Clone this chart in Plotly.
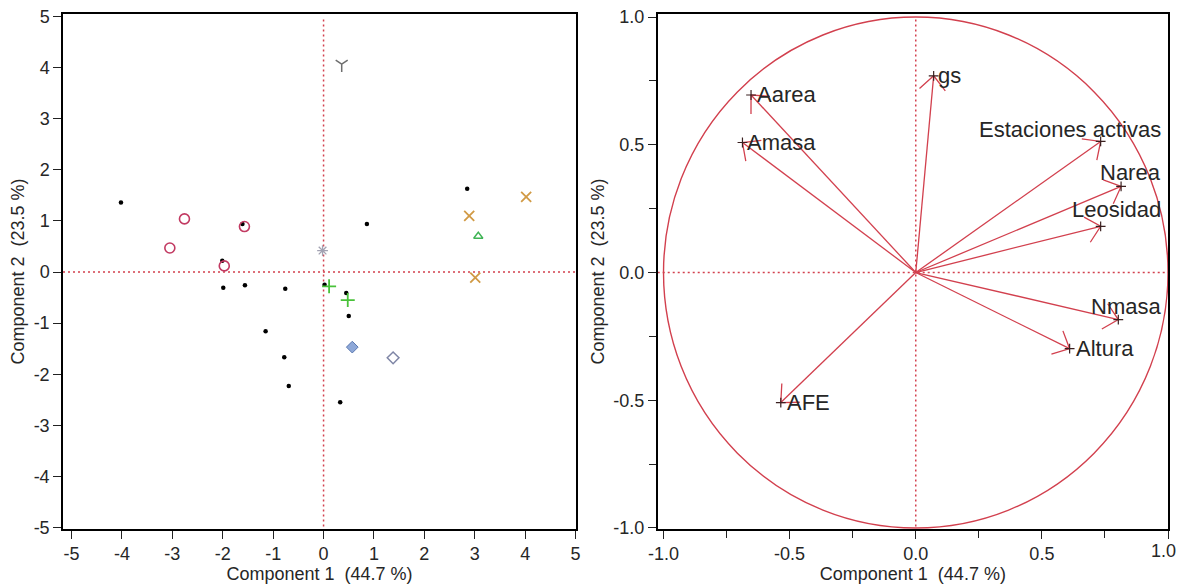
import math
import plotly.graph_objects as go

# ---------------- data: score plot (left) ----------------
black_x = [-4.02, -1.61, -2.01, 2.85, 0.86, -1.99, -1.56, -0.76, 0.02, 0.45, 0.50, -1.15, -0.78, -0.69, 0.33]
black_y = [1.36, 0.94, 0.22, 1.63, 0.94, -0.31, -0.26, -0.33, -0.25, -0.41, -0.86, -1.16, -1.67, -2.23, -2.55]
circ_x = [-2.76, -3.05, -1.57, -1.97]
circ_y = [1.04, 0.47, 0.89, 0.12]
xmark_x = [4.02, 2.89, 3.01]
xmark_y = [1.47, 1.10, -0.11]
tri_x = [3.07]
tri_y = [0.70]
plus_x = [0.11, 0.48]
plus_y = [-0.28, -0.55]
dfill_x = [0.57]
dfill_y = [-1.47]
dopen_x = [1.38]
dopen_y = [-1.68]
ymark_x = [0.36]
ymark_y = [4.07]
ast_x = [-0.02]
ast_y = [0.42]

# ---------------- data: loading plot (right) ----------------
var_names = ["gs", "Aarea", "Amasa", "Estaciones activas", "Narea", "Leosidad", "Nmasa", "Altura", "AFE"]
load_x = [0.071, -0.653, -0.687, 0.733, 0.814, 0.733, 0.803, 0.610, -0.535]
load_y = [0.770, 0.695, 0.509, 0.513, 0.337, 0.181, -0.184, -0.298, -0.509]

ticks_left = [-5, -4, -3, -2, -1, 0, 1, 2, 3, 4, 5]
tick_left_text = ["-5", "-4", "-3", "-2", "-1", "0", "1", "2", "3", "4", "5"]
ticks_right = [-1.0, -0.5, 0.0, 0.5, 1.0]
tick_right_text = ["-1.0", "-0.5", "0.0", "0.5", "1.0"]

# ---------------- styling / layout ----------------
W, H = 1179, 587
ML, MR, MT, MB = 63, 11, 14, 58
dom1 = [0.0, 0.4643]
dom2 = [0.5382, 1.0]
xr1, yr1 = [-5.17, 5.01], [-5.03, 5.05]
xr2, yr2 = [-1.023, 1.0], [-1.004, 1.012]

RED = "#d2404e"
FONT = "Liberation Sans, Arial, Helvetica, sans-serif"
TXT = "#262626"

pw = W - ML - MR
ph = H - MT - MB
sx2 = pw * (dom2[1] - dom2[0]) / (xr2[1] - xr2[0])
sy2 = ph / (yr2[1] - yr2[0])

fig = go.Figure()

def add_pts(x, y, symbol, color, size, lw=1.5, fill=None):
    fig.add_trace(go.Scatter(
        x=x, y=y, mode="markers", xaxis="x", yaxis="y", showlegend=False, hoverinfo="skip",
        marker=dict(symbol=symbol, size=size, color=fill if fill else color,
                    line=dict(color=color, width=lw))))

add_pts(black_x, black_y, "circle", "black", 4.5, 0)
add_pts(circ_x, circ_y, "circle-open", "#c23a62", 10, 1.6)
add_pts(xmark_x, xmark_y, "x-thin-open", "#d19a45", 10, 1.8)
add_pts(tri_x, tri_y, "triangle-up-open", "#3fb455", 8, 1.4)
add_pts(plus_x, plus_y, "cross-thin-open", "#49c23a", 10, 1.8)
add_pts(dfill_x, dfill_y, "diamond", "#5a78b0", 9, 1.0, fill="#8ea8d8")
add_pts(dopen_x, dopen_y, "diamond-open", "#7f86a6", 9, 1.5)
add_pts(ymark_x, ymark_y, "y-down-open", "#6e6e6e", 10, 1.5)
add_pts(ast_x, ast_y, "asterisk-open", "#a2a2b2", 9, 1.3)

# arrows (shafts + open heads) computed in pixel space
L_HEAD = 19.0
ANG = math.radians(43)
lx, ly = [], []
for x, y in zip(load_x, load_y):
    lx += [0, x, None]
    ly += [0, y, None]
    px, py = x * sx2, y * sy2
    n = math.hypot(px, py)
    bx, by = -px / n, -py / n
    for s in (1, -1):
        c, si = math.cos(s * ANG), math.sin(s * ANG)
        ax_ = bx * c - by * si
        ay_ = bx * si + by * c
        lx += [x + L_HEAD * ax_ / sx2]
        ly += [y + L_HEAD * ay_ / sy2]
        if s == 1:
            lx += [x]
            ly += [y]
    lx += [None]
    ly += [None]

fig.add_trace(go.Scatter(x=lx, y=ly, mode="lines", xaxis="x2", yaxis="y2",
                         line=dict(color=RED, width=1.3), showlegend=False, hoverinfo="skip"))
fig.add_trace(go.Scatter(x=load_x, y=load_y, mode="markers", xaxis="x2", yaxis="y2",
                         marker=dict(symbol="cross-thin-open", size=7, color="#3a2020",
                                     line=dict(color="#3a2020", width=1.2)),
                         showlegend=False, hoverinfo="skip"))

# labels
LBL = 22
label_mode = ["tip", "tip", "tip", "edge", "edge", "edge", "edge", "tip", "tip"]
label_dx = [2, 4, 3, 0, 0, 0, 0, 4, 4]
label_dy = [0, 0, 0, 12, 14, 17, 13, 0, 0]
for name, x, y, m, dx, dy in zip(var_names, load_x, load_y, label_mode, label_dx, label_dy):
    if m == "tip":
        fig.add_annotation(x=x, y=y, xref="x2", yref="y2", text=name, showarrow=False,
                           xanchor="left", yanchor="middle", xshift=dx, yshift=dy,
                           font=dict(family=FONT, size=LBL, color=TXT))
    else:
        fig.add_annotation(x=0.99, y=y, xref="x2 domain", yref="y2", text=name, showarrow=False,
                           xanchor="right", yanchor="middle", yshift=dy,
                           font=dict(family=FONT, size=LBL, color=TXT))

# last x tick label of right panel sits at the image edge; keep it fully visible
fig.add_annotation(x=ticks_right[-1], y=0, xref="x2", yref="y2 domain", text=tick_right_text[-1],
                   showarrow=False, xanchor="right", yanchor="top", yshift=-10, xshift=10,
                   font=dict(family=FONT, size=18, color=TXT))

# circle and reference lines
fig.add_shape(type="circle", xref="x2", yref="y2", x0=-1, x1=1, y0=-1, y1=1,
              line=dict(color=RED, width=1.4), layer="below")
dotted = dict(color=RED, width=1.5, dash="2px,3px")
fig.add_shape(type="line", xref="x domain", yref="y", x0=0, x1=1, y0=0, y1=0, line=dotted, layer="below")
fig.add_shape(type="line", xref="x", yref="y domain", x0=0, x1=0, y0=0.005, y1=0.99, line=dotted, layer="below")
fig.add_shape(type="line", xref="x2 domain", yref="y2", x0=0, x1=1, y0=0, y1=0, line=dotted, layer="below")
fig.add_shape(type="line", xref="x2", yref="y2 domain", x0=0, x1=0, y0=0.005, y1=0.995, line=dotted, layer="below")

axis_common = dict(showline=True, linecolor="black", linewidth=1.5, mirror=True, showgrid=False,
                   zeroline=False, ticks="outside", ticklen=8, tickwidth=1.2, tickcolor="#222",
                   automargin=False,
                   tickfont=dict(family=FONT, size=18, color=TXT))
title_font = dict(family=FONT, size=18, color=TXT)
minor = dict(dtick=0.25, ticks="outside", ticklen=7, tickcolor="#222")

fig.update_layout(
    width=W, height=H, paper_bgcolor="white", plot_bgcolor="white",
    margin=dict(l=ML, r=MR, t=MT, b=MB, autoexpand=False),
    xaxis=dict(domain=dom1, range=xr1, tickvals=ticks_left, ticktext=tick_left_text, anchor="y",
               title=dict(text="Component 1  (44.7 %)", font=title_font, standoff=2), **axis_common),
    yaxis=dict(domain=[0, 1], range=yr1, tickvals=ticks_left, ticktext=tick_left_text, anchor="x",
               title=dict(text="Component 2  (23.5 %)", font=title_font, standoff=4), **axis_common),
    xaxis2=dict(domain=dom2, range=xr2, tickvals=ticks_right, ticktext=tick_right_text, anchor="y2",
                minor=minor,
                title=dict(text="Component 1  (44.7 %)", font=title_font, standoff=2), **axis_common),
    yaxis2=dict(domain=[0, 1], range=yr2, tickvals=ticks_right, ticktext=tick_right_text, anchor="x2",
                minor=minor,
                title=dict(text="Component 2  (23.5 %)", font=title_font, standoff=4), **axis_common),
)

fig.write_html("out.html")
